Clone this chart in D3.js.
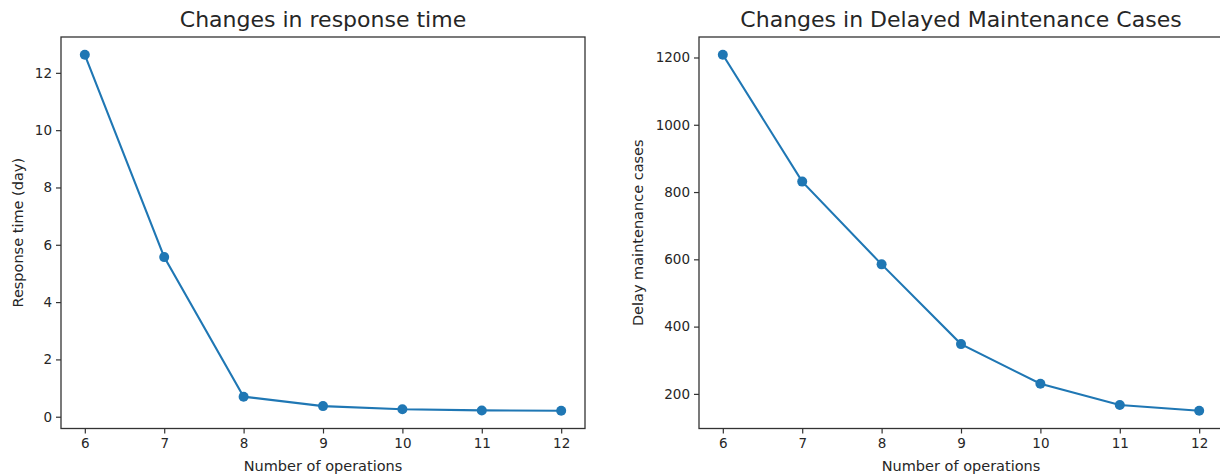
<!DOCTYPE html>
<html>
<head>
<meta charset="utf-8">
<script src="https://cdn.jsdelivr.net/npm/d3@7"></script>
<style>
  html, body { margin: 0; padding: 0; background: #fff; overflow: hidden; }
  text { font-family: "DejaVu Sans", sans-serif; fill: #262626; }
</style>
</head>
<body>
<svg id="chart" width="1220" height="474"></svg>
<script>
const operations = [6, 7, 8, 9, 10, 11, 12];
const responseTime = [12.63, 5.57, 0.70, 0.37, 0.26, 0.22, 0.21];
const delayedCases = [1208, 831, 585, 348, 230, 167, 150];
const xTicks = [6, 7, 8, 9, 10, 11, 12];
const responseTicks = [0, 2, 4, 6, 8, 10, 12];
const casesTicks = [200, 400, 600, 800, 1000, 1200];

const titles = ["Changes in response time", "Changes in Delayed Maintenance Cases"];
const yLabels = ["Response time (day)", "Delay maintenance cases"];
const xLabel = "Number of operations";

const svg = d3.select("#chart");
const color = "#1f77b4";

function padded(ext, f) {
  const r = ext[1] - ext[0];
  return [ext[0] - r * f, ext[1] + r * f];
}

function panel(cfg) {
  const { left, right, top, bottom, values, yTicks, title, yLabel, yLabelX } = cfg;
  const g = svg.append("g");
  const x = d3.scaleLinear().domain(padded(d3.extent(operations), 0.05)).range([left, right]);
  const y = d3.scaleLinear().domain(padded(d3.extent(values), 0.05)).range([bottom, top]);

  const xAxis = d3.axisBottom(x).tickValues(xTicks).tickFormat(d3.format("d")).tickSize(5).tickPadding(5);
  const yAxis = d3.axisLeft(y).tickValues(yTicks).tickFormat(d3.format("d")).tickSize(5).tickPadding(4);

  const gx = g.append("g").attr("transform", `translate(0,${bottom})`).call(xAxis);
  const gy = g.append("g").attr("transform", `translate(${left},0)`).call(yAxis);
  [gx, gy].forEach(a => {
    a.select(".domain").remove();
    a.selectAll(".tick line").attr("stroke", "#333").attr("stroke-width", 1.2);
    a.selectAll(".tick text").style("font-size", "13.5px").attr("fill", "#262626");
  });

  const line = d3.line().x((d, i) => x(operations[i])).y(d => y(d));
  g.append("path").datum(values).attr("d", line)
    .attr("fill", "none").attr("stroke", color).attr("stroke-width", 2.1);
  g.selectAll("circle.pt").data(values).enter().append("circle")
    .attr("class", "pt")
    .attr("cx", (d, i) => x(operations[i])).attr("cy", d => y(d))
    .attr("r", 5).attr("fill", color);

  g.append("rect").attr("x", left).attr("y", top)
    .attr("width", right - left).attr("height", bottom - top)
    .attr("fill", "none").attr("stroke", "#333").attr("stroke-width", 1.3);

  const cx = (left + right) / 2;
  g.append("text").attr("x", cx).attr("y", 27).attr("text-anchor", "middle")
    .style("font-size", "22px").text(title);
  g.append("text").attr("x", cx).attr("y", 471).attr("text-anchor", "middle")
    .style("font-size", "14.5px").text(xLabel);
  g.append("text").attr("transform", `translate(${yLabelX},${(top + bottom) / 2}) rotate(-90)`)
    .attr("text-anchor", "middle").style("font-size", "14.5px").text(yLabel);
}

panel({ left: 61, right: 585, top: 37, bottom: 428.5, values: responseTime,
  yTicks: responseTicks, title: titles[0], yLabel: yLabels[0], yLabelX: 23 });
panel({ left: 699, right: 1223, top: 37, bottom: 428.5, values: delayedCases,
  yTicks: casesTicks, title: titles[1], yLabel: yLabels[1], yLabelX: 643 });
</script>
</body>
</html>
